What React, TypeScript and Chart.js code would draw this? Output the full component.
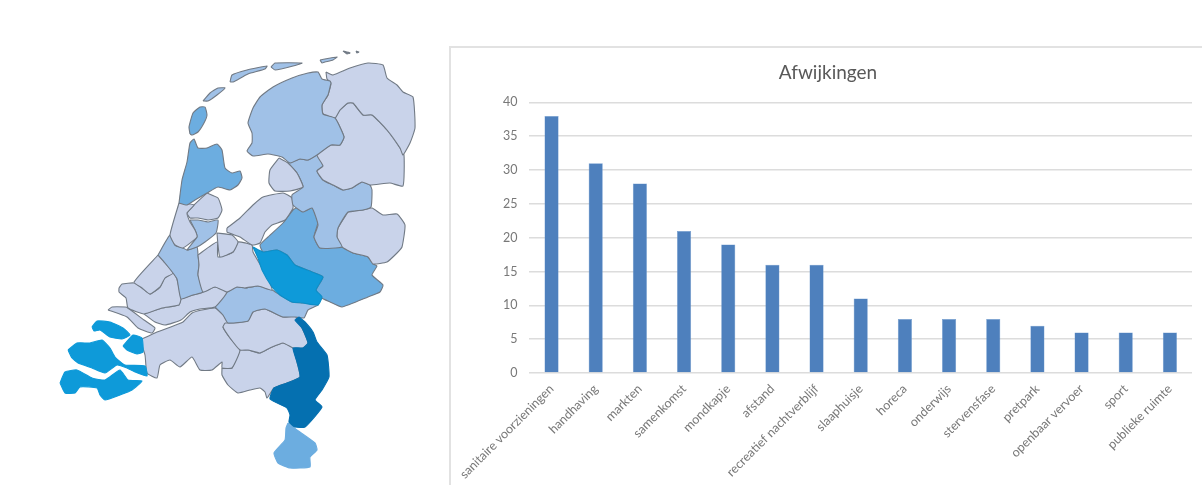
import React, { useEffect, useRef } from "react";
import { Chart, registerables } from "chart.js";

Chart.register(...registerables);

// ---- bar chart data ----
const categories = [
  "sanitaire voorzieningen", "handhaving", "markten", "samenkomst", "mondkapje", "afstand",
  "recreatief nachtverblijf", "slaaphuisje", "horeca", "onderwijs", "stervensfase", "pretpark",
  "openbaar vervoer", "sport", "publieke ruimte",
];
const deviations = [38, 31, 28, 21, 19, 16, 16, 11, 8, 8, 8, 7, 6, 6, 6];
const chartTitle = "Afwijkingen";

// ---- map outlines, as [x, y] pairs ----
const texel = [190,134,189,127,193,113,200,107,205,107,207,115,204,123,198,132,192,135];
const vlieland = [203,101,210,93,218,88,225,88,217,95,208,101];
const terschelling = [230,82,232,75,247,70,267,66,265,69,248,74,233,82];
const ameland = [271,67,275,63,302,63,293,66,275,70];
const schiermonnikoog = [320,60,337,57,333,60,325,62,322,63];
const rottumeroog = [343,51,350,53,347,54];
const rottumerplaat = [356,51,359,52,357,53];
const friesland = [331,83,328,95,322,105,323,114,335,118,339,125,344,137,340,145,331,145,317,155,308,160,300,159,290,163,282,157,268,154,253,156,247,151,252,143,252,133,248,123,253,108,260,97,273,87,292,78,308,73,318,72,322,79,330,81];
const groningen = [326,72,327,79,331,83,328,95,322,105,323,114,335,118,340,110,348,103,353,103,363,115,372,115,387,130,400,148,403,155,410,143,415,128,413,97,403,92,397,85,387,78,383,65,368,63,350,68,333,75];
const drenthe = [335,118,340,110,348,103,353,103,363,115,372,115,387,130,400,148,404,155,403,186,390,183,370,185,362,182,352,188,343,190,333,185,323,180,317,171,323,166,317,155,331,145,340,145,344,137,339,125];
const noordoostpolder = [279,158,288,163,297,173,303,187,290,191,275,191,269,183,270,170];
const ijsselland = [288,163,300,159,308,160,317,155,323,166,317,171,323,180,333,185,343,190,352,188,362,182,370,185,372,190,371,207,363,210,348,212,338,228,337,237,342,247,320,248,314,237,318,225,312,208,303,212,293,205,292,195,303,187,297,173];
const twente = [348,212,363,210,372,208,383,215,397,214,405,225,402,247,397,253,387,262,373,264,368,257,353,253,342,247,337,237,338,228];
const flevoland = [227,228,240,218,253,205,263,197,283,193,292,198,293,208,285,220,272,225,265,232,260,243,252,245,240,237,227,232];
const noordOostGelderland = [298,207,307,210,312,207,318,222,314,237,320,248,342,247,353,253,368,257,373,264,377,266,372,275,383,285,380,292,368,297,342,307,330,302,320,297,316,290,323,277,312,272,295,265,287,255,277,250,263,252,260,245,268,237,283,223,293,210];
const gelderlandMidden = [253,247,263,252,277,250,287,255,295,265,312,272,323,277,316,290,322,297,318,305,303,303,292,302,280,295,272,287,262,270,258,258];
const noordHollandNoord = [179,203,182,180,187,162,190,143,194,139,198,148,207,148,217,144,222,150,225,168,232,173,240,171,242,178,238,185,230,190,218,187,207,193,195,200,187,205];
const kennemerland = [179,203,194,205,187,213,190,222,195,230,197,237,183,248,175,245,170,235];
const zaanstreek = [207,193,218,198,222,210,218,218,208,220,198,218,190,218,187,213,194,205];
const amsterdam = [190,220,198,220,208,222,218,220,216,233,205,242,197,247,187,250,197,237,195,230];
const gooi = [217,233,232,235,238,242,233,252,220,257,218,245];
const utrecht = [198,255,217,242,218,257,233,252,238,242,252,245,253,252,265,273,272,290,258,286,245,288,237,287,227,292,215,287,203,292,198,275,199,265];
const hollandsMidden = [158,255,170,235,175,245,183,248,187,250,197,247,198,255,199,265,198,275,203,292,193,295,181,299,177,279,173,273,165,263];
const haaglanden = [158,255,173,273,165,278,160,287,150,294,142,288,134,282];
const rijnmond = [119,288,122,284,134,283,142,288,150,294,160,287,165,278,173,273,177,279,181,299,179,305,162,308,144,314,128,308,126,298,119,292];
const goeree = [108,310,112,307,125,307,128,308,144,320,155,328,152,333,138,328,127,317];
const zuidHollandZuid = [144,314,162,308,179,305,181,299,193,295,203,292,215,287,227,292,215,307,200,309,190,312,181,320,165,325,155,322];
const gelderlandZuid = [215,307,227,292,237,287,245,288,258,286,272,290,280,295,292,302,303,303,318,305,308,310,304,318,295,317,283,317,265,309,253,312,248,321,228,323,223,315];
const hartVoorBrabant = [225,323,248,321,253,312,265,309,283,317,295,316,302,328,308,343,303,348,293,348,283,343,270,348,260,353,248,350,240,350,230,338,223,327];
const westBrabant = [140,340,157,332,168,328,183,322,192,313,202,310,215,308,223,315,228,323,223,327,230,338,240,350,232,368,222,368,222,362,212,370,200,370,192,357,180,367,170,360,160,365,157,378,147,373,145,355];
const brabantZuidoost = [222,368,232,368,240,350,248,350,260,353,270,348,283,343,293,348,297,362,300,377,287,383,274,388,267,398,265,392,260,388,250,390,238,393,228,385,222,375];
const limburgNoord = [299,317,305,322,313,332,317,342,327,355,329,377,322,390,315,400,322,407,305,427,295,427,289,422,290,415,287,408,270,399,274,388,287,383,300,377,297,362,293,348,303,348,308,343,302,328,295,320];
const limburgZuid = [288,423,297,430,315,443,317,450,310,457,310,467,290,468,278,463,274,453,285,440,286,428];
const schouwen = [92,327,97,321,110,322,123,328,130,335,122,339,110,337,100,330,94,331];
const tholen = [123,346,133,335,142,338,143,352,137,354,127,350];
const walcheren = [68,350,77,343,90,343,102,340,110,348,115,357,125,365,145,366,147,376,135,372,127,368,117,365,105,373,92,368,78,363,72,358];
const zeeuwsVlaanderen = [60,383,65,372,77,370,92,378,105,380,120,370,128,380,142,381,132,390,120,395,105,400,100,395,97,388,80,387,75,393,65,393];

const LIGHT = "#c9d3ea";
const MID = "#a0c1e7";
const STRONG = "#6cade0";
const BRIGHT = "#0e9ad9";
const DARK = "#0570b0";
const EDGE = "#717a85";

const regions: [number[], string, string?][] = [
  [limburgNoord, DARK, DARK], [limburgZuid, STRONG, STRONG],
  [schouwen, BRIGHT, BRIGHT], [tholen, BRIGHT, BRIGHT], [walcheren, BRIGHT, BRIGHT], [zeeuwsVlaanderen, BRIGHT, BRIGHT],
  [gelderlandMidden, BRIGHT, "#0d8ec8"],
  [texel, STRONG], [vlieland, MID], [terschelling, MID], [ameland, MID], [schiermonnikoog, MID],
  [rottumeroog, EDGE], [rottumerplaat, EDGE],
  [friesland, MID], [groningen, LIGHT], [drenthe, LIGHT], [noordoostpolder, LIGHT], [ijsselland, MID],
  [twente, LIGHT], [flevoland, LIGHT], [noordOostGelderland, STRONG],
  [noordHollandNoord, STRONG], [kennemerland, LIGHT], [zaanstreek, LIGHT], [amsterdam, MID], [gooi, LIGHT],
  [utrecht, LIGHT], [hollandsMidden, MID], [haaglanden, LIGHT], [rijnmond, LIGHT], [goeree, LIGHT],
  [zuidHollandZuid, LIGHT], [gelderlandZuid, MID], [hartVoorBrabant, LIGHT], [westBrabant, LIGHT],
  [brabantZuidoost, LIGHT],
];

function ring(flat: number[]) {
  const pts: { x: number; y: number }[] = [];
  for (let i = 0; i < flat.length; i += 2) pts.push({ x: flat[i], y: flat[i + 1] });
  pts.push(pts[0]);
  return pts;
}

const FONT = "Lato, Carlito, sans-serif";

export default function App() {
  const mapRef = useRef<HTMLCanvasElement>(null);
  const barRef = useRef<HTMLCanvasElement>(null);

  useEffect(() => {
    const map = new Chart(mapRef.current!, {
      type: "scatter",
      data: {
        datasets: regions.map(([outline, color, edge]) => ({
          data: ring(outline),
          showLine: true,
          fill: "shape",
          backgroundColor: color,
          borderColor: edge ?? EDGE,
          borderWidth: 1.1,
          pointRadius: 0,
          tension: 0.15,
        })),
      },
      options: {
        responsive: false,
        animation: false,
        devicePixelRatio: 1,
        layout: { padding: 0 },
        plugins: { legend: { display: false }, tooltip: { enabled: false }, title: { display: false } },
        scales: {
          x: { type: "linear", min: 0, max: 449, display: false },
          y: { type: "linear", min: 0, max: 485, reverse: true, display: false },
        },
      },
    } as any);

    const bar = new Chart(barRef.current!, {
      type: "bar",
      data: {
        labels: categories,
        datasets: [{
          data: deviations,
          backgroundColor: "#4e80bd",
          borderColor: "#6f9bd0",
          borderWidth: 0.5,
          barPercentage: 0.32,
          categoryPercentage: 1,
        }],
      },
      options: {
        responsive: false,
        animation: false,
        devicePixelRatio: 1,
        layout: { padding: { top: 0, left: 13, right: 10, bottom: 0 } },
        plugins: {
          legend: { display: false },
          tooltip: { enabled: false },
          title: {
            display: true,
            text: chartTitle,
            color: "#595959",
            font: { family: FONT, size: 19, weight: "normal" },
            padding: { top: 13, bottom: 18.6 },
          },
        },
        scales: {
          x: {
            grid: { display: false, drawTicks: false },
            border: { display: false },
            afterFit: (s: any) => { s.height = 112; },
            ticks: {
              autoSkip: false,
              maxRotation: 45,
              minRotation: 45,
              padding: 8.5,
              color: "#787878",
              font: { family: FONT, size: 12.5 },
            },
          },
          y: {
            min: 0,
            max: 40,
            afterFit: (s: any) => { s.width = 64; },
            grid: { color: "#dcdcdc", lineWidth: 1.5, drawTicks: false },
            border: { display: false },
            ticks: { stepSize: 5, padding: 12, color: "#787878", font: { family: FONT, size: 12.5 } },
          },
        },
      },
    } as any);

    return () => { map.destroy(); bar.destroy(); };
  }, []);

  return (
    <div style={{ position: "absolute", left: 0, top: 0, width: 1202, height: 485, overflow: "hidden", background: "#fff" }}>
      <canvas ref={mapRef} width={449} height={485} style={{ position: "absolute", left: 0, top: 0, width: 449, height: 485, filter: "blur(0.5px)" }} />
      <div style={{ position: "absolute", left: 449, top: 46, width: 753, height: 439, boxSizing: "border-box", borderLeft: "2px solid #e2e2e2", borderTop: "2px solid #e2e2e2" }} />
      <canvas ref={barRef} width={751} height={437} style={{ position: "absolute", left: 451, top: 48, width: 751, height: 437, filter: "blur(0.5px)" }} />
    </div>
  );
}
